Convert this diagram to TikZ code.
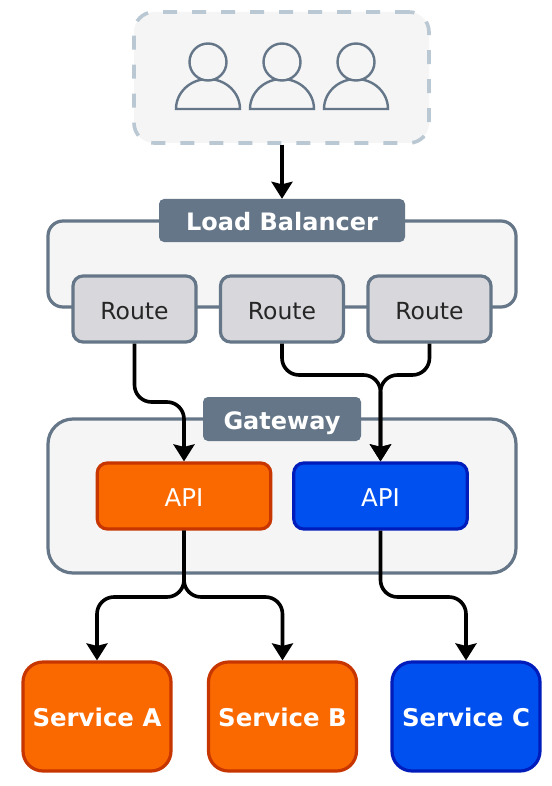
\documentclass[tikz,border=0pt]{standalone}
\usepackage{fontspec}
\setmainfont{DejaVu Sans}
\usetikzlibrary{arrows.meta}
\definecolor{slatec}{HTML}{647687}
\definecolor{paleg}{HTML}{F5F5F5}
\definecolor{dashc}{HTML}{BAC8D3}
\definecolor{routef}{HTML}{D8D8DC}
\definecolor{orf}{HTML}{FA6800}
\definecolor{ors}{HTML}{C73500}
\definecolor{blf}{HTML}{0050EF}
\definecolor{bls}{HTML}{001DBC}
\newcommand{\lowered}[1]{\raisebox{-10pt}[0pt][0pt]{#1}}
\tikzset{
  x=1pt,y=-1pt,
  box/.style={draw,line width=3.2pt,inner sep=0pt,outer sep=1.6pt,anchor=center},
  panel/.style={box,draw=slatec,fill=paleg,rounded corners=#1},
  tag/.style={fill=slatec,text=white,font=\fontsize{24}{28}\selectfont\bfseries,rounded corners=5pt,inner sep=0pt,anchor=center},
  routebox/.style={box,draw=slatec,fill=routef,rounded corners=10pt,minimum width=123pt,minimum height=66pt,text=black!85,font=\fontsize{23.5}{28}\selectfont},
  apibox/.style={box,rounded corners=10pt,minimum width=173.5pt,minimum height=66pt,text=white,font=\fontsize{24.5}{30}\selectfont},
  svcbox/.style={box,rounded corners=20pt,minimum width=148pt,minimum height=109pt,text=white,font=\fontsize{24.4}{29}\selectfont\bfseries},
  orangeb/.style={fill=orf,draw=ors},
  blueb/.style={fill=blf,draw=bls},
  conn/.style={draw=black,line width=3.6pt,rounded corners=17pt},
  tipped/.style={-{Stealth[inset=2.5pt,length=17pt,width=21pt]}},
  usericon/.style={draw=slatec,line width=2.4pt,fill=paleg},
}
\begin{document}
\begin{tikzpicture}
\useasboundingbox (0,0) rectangle (551,786);
\fill[white] (0,0) rectangle (551,786);

% users
\node[box,draw=dashc,fill=paleg,line width=3.6pt,dash pattern=on 14pt off 15pt,rounded corners=20pt,minimum width=295pt,minimum height=131pt] (users) at (281.5,77.5) {};
\foreach \cx in {208,282,356}{
  \draw[usericon] (\cx-32,109) arc[start angle=180,end angle=360,x radius=32,y radius=30] -- cycle;
  \draw[usericon] (\cx,62) circle[radius=18.5];
}

% load balancer
\node[panel=15pt,minimum width=468pt,minimum height=86pt] (lbpanel) at (282,264) {};
\node[tag,minimum width=246pt,minimum height=43pt] (lb) at (282,220.5) {\lowered{Load Balancer}};
\node[routebox] (r1) at (134.5,309) {\lowered{Route}};
\node[routebox] (r2) at (282,309) {\lowered{Route}};
\node[routebox] (r3) at (429.5,309) {\lowered{Route}};

% gateway
\node[panel=25pt,minimum width=468pt,minimum height=154pt] (gwpanel) at (282,496) {};
\node[tag,minimum width=158pt,minimum height=44pt] (gw) at (282,419) {\lowered{Gateway}};
\node[apibox,orangeb] (api1) at (184,496) {\lowered{API}};
\node[apibox,blueb] (api2) at (380.5,496) {\lowered{API}};

% services
\node[svcbox,orangeb] (sa) at (97,716.5) {\lowered{Service A}};
\node[svcbox,orangeb] (sb) at (282.5,716.5) {\lowered{Service B}};
\node[svcbox,blueb] (sc) at (466,716.5) {\lowered{Service C}};

% connectors
\coordinate (m1) at (0,402);
\coordinate (m2) at (0,375);
\coordinate (m3) at (0,597);
\draw[conn,tipped] (users.south -| lb.north) -- (lb.north);
\draw[conn,tipped] (r1.south) |- (m1 -| api1.north) -- (api1.north);
\draw[conn,tipped] (r2.south) |- (m2 -| api2.north) -- (api2.north);
\draw[conn,tipped] (r3.south) |- (m2 -| api2.north) -- (api2.north);
\draw[conn,tipped] (api1.south) |- (m3 -| sa.north) -- (sa.north);
\draw[conn,tipped] (api1.south) |- (m3 -| sb.north) -- (sb.north);
\draw[conn,tipped] (api2.south) |- (m3 -| sc.north) -- (sc.north);
\end{tikzpicture}
\end{document}
